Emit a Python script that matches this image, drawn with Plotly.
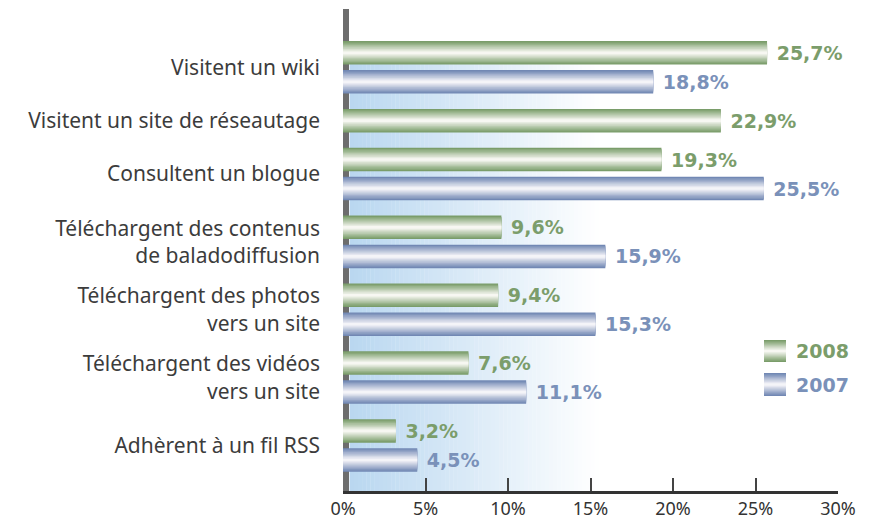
import plotly.graph_objects as go

# data
categories = [
    "Visitent un wiki",
    "Visitent un site de réseautage",
    "Consultent un blogue",
    "Téléchargent des contenus<br>de baladodiffusion",
    "Téléchargent des photos<br>vers un site",
    "Téléchargent des vidéos<br>vers un site",
    "Adhèrent à un fil RSS",
]
years = ["2008", "2007"]
values_2008 = [25.7, 22.9, 19.3, 9.6, 9.4, 7.6, 3.2]
values_2007 = [18.8, None, 25.5, 15.9, 15.3, 11.1, 4.5]
x_ticks = [0, 5, 10, 15, 20, 25, 30]

# styling
series = [
    (years[0], values_2008, (122, 157, 106), (247, 247, 242), "#7b9d6b"),
    (years[1], values_2007, (114, 136, 180), (244, 244, 248), "#7a91b9"),
]
BAR_STEP = 1.0      # distance between bars of one group
GROUP_STEP = 1.338  # distance between last bar of a group and first of next
BAR_T = 0.81        # bar thickness
LAYERS = 9          # layered bars to fake the cylinder gradient
X_MAX = 30
PAGE_PAD = 8        # the page body margin shifts the figure by this much


def mix(c1, c2, f):
    return "rgb(%d,%d,%d)" % tuple(round(a + (b - a) * f) for a, b in zip(c1, c2))


def fmt(v):
    return ("%.1f" % v).replace(".", ",") + "%"


# row positions: bars that exist are stacked, missing ones take no room
positions = {name: [None] * len(categories) for name, *_ in series}
tick_pos = []
cur = None
for i in range(len(categories)):
    rows = []
    for name, vals, *_ in series:
        if vals[i] is None:
            continue
        if cur is None:
            cur = 0.0
        elif rows:
            cur += BAR_STEP
        else:
            cur += GROUP_STEP
        positions[name][i] = cur
        rows.append(cur)
    tick_pos.append(sum(rows) / len(rows))

y_top = -1.51
y_bottom = cur + 1.07

fig = go.Figure()

for name, vals, edge, centre, txt_col in series:
    xs = [v for v in vals if v is not None]
    ys = [p for p, v in zip(positions[name], vals) if v is not None]
    for k in range(LAYERS):
        f = k / (LAYERS - 1)
        fig.add_trace(go.Bar(
            x=xs, y=ys, orientation="h",
            width=BAR_T * (1 - k / LAYERS),
            marker=dict(color=mix(edge, centre, f), line=dict(width=0)),
            text=[" " + fmt(v) for v in xs] if k == 0 else None,
            textposition="outside" if k == 0 else "none",
            textfont=dict(family="DejaVu Sans", size=19, color=txt_col, weight="bold"),
            constraintext="none",
            cliponaxis=False,
            name=name, showlegend=False, hoverinfo="x+name",
        ))

shapes = []
# light blue background fading to white
n_strips = 60
g_start, g_stop = 0.4, 15.5
for s in range(n_strips):
    x0 = g_start + (g_stop - g_start) * s / n_strips
    x1 = g_start + (g_stop - g_start) * (s + 1) / n_strips + 0.02
    shapes.append(dict(type="rect", xref="x", yref="y", layer="below",
                       x0=x0, x1=x1, y0=-BAR_T / 2, y1=y_bottom,
                       fillcolor=mix((185, 215, 240), (255, 255, 255), (s + 0.5) / n_strips),
                       line=dict(width=0)))
# thick grey axis bar at zero
shapes.append(dict(type="line", xref="x", yref="paper", layer="below",
                   x0=0, x1=0, y0=0, y1=1, line=dict(color="#6d6d6d", width=12)))

# hand-made legend with the same gradient look
annotations = []
legend_rows = [(0.3133, 0.2676), (0.2448, 0.1971)]
for (name, vals, edge, centre, txt_col), (yt, yb) in zip(series, legend_rows):
    mid = (yt + yb) / 2
    half = (yt - yb) / 2
    for k in range(LAYERS):
        f = k / (LAYERS - 1)
        h = half * (1 - k / LAYERS)
        shapes.append(dict(type="rect", xref="paper", yref="paper",
                           x0=0.8505, x1=0.895, y0=mid - h, y1=mid + h,
                           fillcolor=mix(edge, centre, f), line=dict(width=0)))
    annotations.append(dict(xref="paper", yref="paper", x=0.912, y=mid,
                            xanchor="left", yanchor="middle", showarrow=False,
                            text="<b>%s</b>" % name,
                            font=dict(family="DejaVu Sans", size=19, color=txt_col)))

fig.update_layout(
    width=869 - PAGE_PAD, height=522 - PAGE_PAD,
    margin=dict(l=343 - PAGE_PAD, r=31, t=9 - PAGE_PAD, b=31),
    barmode="overlay",
    plot_bgcolor="white", paper_bgcolor="white",
    showlegend=False,
    shapes=shapes,
    annotations=annotations,
    xaxis=dict(
        range=[0, X_MAX], tickvals=x_ticks, ticktext=["%d%%" % v for v in x_ticks],
        ticks="inside", ticklen=13, tickwidth=2, tickcolor="#444",
        showline=True, linecolor="#333", linewidth=2.5,
        showgrid=False, zeroline=False, automargin=False,
        ticklabelstandoff=0,
        tickfont=dict(family="Noto Sans", size=18, color="#333"),
    ),
    yaxis=dict(
        range=[y_bottom, y_top], tickvals=tick_pos, ticktext=categories,
        ticks="", showline=False, showgrid=False, zeroline=False,
        automargin=False, ticklabelstandoff=22,
        tickfont=dict(family="Noto Sans", size=21, color="#3c3c3c"),
    ),
)

fig.write_html("out.html")
